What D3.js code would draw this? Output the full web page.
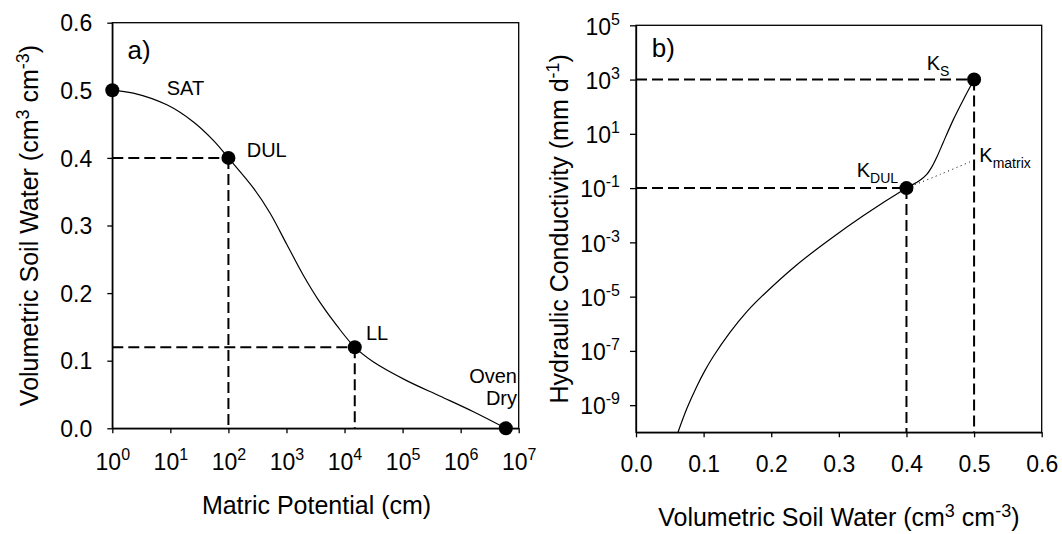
<!DOCTYPE html>
<html>
<head>
<meta charset="utf-8">
<script src="https://cdn.jsdelivr.net/npm/d3@7"></script>
<style>
  html, body { margin: 0; padding: 0; background: #fff; }
  svg { display: block; }
  text { font-family: "Liberation Sans", Arial, sans-serif; fill: #000; }
</style>
</head>
<body>
<svg id="chart" width="1062" height="534"></svg>
<script>
// Soil water retention curve: matric potential (cm) vs volumetric soil water
const retentionPotential = [1, 2.3, 8.7, 25, 55, 100, 272, 520, 1010, 1950, 3780, 7330, 15000, 31600, 117500, 436500, 1660000, 6000000];
const retentionTheta     = [0.5, 0.4959, 0.4785, 0.4532, 0.426, 0.4, 0.355, 0.3185, 0.2722, 0.2264, 0.1862, 0.1522, 0.12, 0.098, 0.0705, 0.0478, 0.0245, 0.0];

// Key points on the retention curve
const retentionPointNames = ["SAT", "DUL", "LL", "Oven Dry"];
const retentionPointPsi   = [1, 100, 15000, 6000000];
const retentionPointTheta = [0.5, 0.4, 0.12, 0.0];

// Hydraulic conductivity curve: volumetric soil water vs K (mm/d)
const conductTheta = [0.0621, 0.0755, 0.0897, 0.1015, 0.1143, 0.139, 0.164, 0.189, 0.238, 0.287, 0.336, 0.4, 0.4195, 0.43, 0.438, 0.445, 0.454, 0.469, 0.484, 0.5];
const conductK     = [1e-10, 7.8e-10, 4.8e-9, 1.8e-8, 6.2e-8, 4.8e-7, 2.8e-6, 1.2e-5, 1.5e-4, 1.3e-3, 9.5e-3, 0.1, 0.19, 0.32, 0.63, 1.4, 4.6, 32, 178, 1000];

// Matrix conductivity extension beyond DUL (dotted)
const matrixTheta = [0.4, 0.45, 0.495];
const matrixK     = [0.1, 0.32, 0.95];

// Key points on the conductivity curve
const conductPointNames = ["DUL", "S"];
const conductPointTheta = [0.4, 0.5];
const conductPointK     = [0.1, 1000];

// Tick values
const psiTicks    = [1, 10, 100, 1e3, 1e4, 1e5, 1e6, 1e7];
const psiExponent = ["0", "1", "2", "3", "4", "5", "6", "7"];
const thetaTicks  = [0, 0.1, 0.2, 0.3, 0.4, 0.5, 0.6];
const kTicks      = [1e5, 1e3, 1e1, 1e-1, 1e-3, 1e-5, 1e-7, 1e-9];
const kExponent   = ["5", "3", "1", "-1", "-3", "-5", "-7", "-9"];

const svg = d3.select("#chart");
svg.append("rect").attr("width", 1062).attr("height", 534).attr("fill", "#fff");

const TICK_FONT = 23, SUP_FONT = 16, TITLE_FONT = 25, TITLE_SUP = 18, LABEL_FONT = 20, SUB_FONT = 14;
const smooth = d3.curveCatmullRom.alpha(0.5);

// ---------- Panel a ----------
const ax = d3.scaleLog().domain([1, 1e7]).range([112.3, 518.7]);
const ay = d3.scaleLinear().domain([0, 0.6]).range([428.3, 22.7]);

const ga = svg.append("g");

function styleAxis(g) {
  g.select(".domain").attr("stroke", "#000").attr("stroke-width", 1.3);
  g.selectAll(".tick line").attr("stroke", "#000").attr("stroke-width", 1.3);
  g.selectAll(".tick text").attr("font-size", TICK_FONT).attr("fill", "#000")
    .attr("font-family", '"Liberation Sans", Arial, sans-serif');
}

function powerLabels(g, exps) {
  g.selectAll(".tick text").each(function(d, i) {
    const t = d3.select(this);
    t.text(null);
    t.append("tspan").text("10");
    t.append("tspan").attr("font-size", SUP_FONT).attr("dy", -10).text(exps[i]);
  });
}

// frame
ga.append("rect").attr("x", ax.range()[0]).attr("y", ay.range()[1])
  .attr("width", ax.range()[1] - ax.range()[0]).attr("height", ay.range()[0] - ay.range()[1])
  .attr("fill", "none").attr("stroke", "#000").attr("stroke-width", 1.3);

const axA = ga.append("g").attr("transform", `translate(0,${ay.range()[0]})`)
  .call(d3.axisBottom(ax).tickValues(psiTicks).tickSizeInner(5).tickSizeOuter(0).tickPadding(20).tickFormat(() => ""));
styleAxis(axA);
powerLabels(axA, psiExponent);
axA.selectAll(".tick text").attr("dy", "0.71em");

const ayA = ga.append("g").attr("transform", `translate(${ax.range()[0]},0)`)
  .call(d3.axisLeft(ay).tickValues(thetaTicks).tickSizeInner(5).tickSizeOuter(0).tickPadding(15).tickFormat(d3.format(".1f")));
styleAxis(ayA);
ayA.selectAll(".tick text").attr("dy", "0.36em");

// reference dashes to DUL and LL
[1, 2].forEach(i => {
  const px = ax(retentionPointPsi[i]), py = ay(retentionPointTheta[i]);
  ga.append("line").attr("x1", ax.range()[0]).attr("x2", px).attr("y1", py).attr("y2", py)
    .attr("stroke", "#000").attr("stroke-width", 2).attr("stroke-dasharray", "11,5");
  ga.append("line").attr("x1", px).attr("x2", px).attr("y1", py).attr("y2", ay.range()[0])
    .attr("stroke", "#000").attr("stroke-width", 2).attr("stroke-dasharray", "11,5");
});

const retention = retentionPotential.map((p, i) => [p, retentionTheta[i]]);
ga.append("path").datum(retention)
  .attr("d", d3.line().x(d => ax(d[0])).y(d => ay(d[1])).curve(smooth))
  .attr("fill", "none").attr("stroke", "#000").attr("stroke-width", 1.2);

ga.selectAll("circle.pt").data(retentionPointPsi).enter().append("circle")
  .attr("cx", d => ax(d)).attr("cy", (d, i) => ay(retentionPointTheta[i])).attr("r", 7).attr("fill", "#000");

ga.append("text").attr("x", 127.5).attr("y", 59).attr("font-size", 26).text("a)");
ga.append("text").attr("x", 166.7).attr("y", 95).attr("font-size", LABEL_FONT).text(retentionPointNames[0]);
ga.append("text").attr("x", 246.7).attr("y", 157).attr("font-size", LABEL_FONT).text(retentionPointNames[1]);
ga.append("text").attr("x", 366).attr("y", 340).attr("font-size", LABEL_FONT).text(retentionPointNames[2]);
const odWords = retentionPointNames[3].split(" ");
ga.append("text").attr("x", 517).attr("y", 383).attr("font-size", LABEL_FONT).attr("text-anchor", "end").text(odWords[0]);
ga.append("text").attr("x", 517).attr("y", 405).attr("font-size", LABEL_FONT).attr("text-anchor", "end").text(odWords[1]);

ga.append("text").attr("x", (ax.range()[0] + ax.range()[1]) / 2 + 1).attr("y", 514)
  .attr("font-size", TITLE_FONT).attr("text-anchor", "middle").text("Matric Potential (cm)");

function soilWaterTitle(t) {
  t.append("tspan").text("Volumetric Soil Water (cm");
  t.append("tspan").attr("font-size", TITLE_SUP).attr("dy", -9).text("3");
  t.append("tspan").attr("dy", 9).text(" cm");
  t.append("tspan").attr("font-size", TITLE_SUP).attr("dy", -9).text("-3");
  t.append("tspan").attr("dy", 9).text(")");
}

const ayTitle = ga.append("text").attr("font-size", TITLE_FONT).attr("text-anchor", "middle")
  .attr("transform", `translate(37.5,${(ay.range()[0] + ay.range()[1]) / 2}) rotate(-90)`);
soilWaterTitle(ayTitle);

// ---------- Panel b ----------
const bx = d3.scaleLinear().domain([0, 0.6]).range([636, 1041.7]);
const by = d3.scaleLog().domain([1e-10, 1e5]).range([432.3, 25.3]);

const gb = svg.append("g");
gb.append("defs").append("clipPath").attr("id", "clipB").append("rect")
  .attr("x", bx.range()[0]).attr("y", by.range()[1])
  .attr("width", bx.range()[1] - bx.range()[0]).attr("height", by.range()[0] - by.range()[1]);

gb.append("rect").attr("x", bx.range()[0]).attr("y", by.range()[1])
  .attr("width", bx.range()[1] - bx.range()[0]).attr("height", by.range()[0] - by.range()[1])
  .attr("fill", "none").attr("stroke", "#000").attr("stroke-width", 1.3);

const axB = gb.append("g").attr("transform", `translate(0,${by.range()[0]})`)
  .call(d3.axisBottom(bx).tickValues(thetaTicks).tickSizeInner(5).tickSizeOuter(0).tickPadding(18).tickFormat(d3.format(".1f")));
styleAxis(axB);
axB.selectAll(".tick text").attr("dy", "0.71em");

const ayB = gb.append("g").attr("transform", `translate(${bx.range()[0]},0)`)
  .call(d3.axisLeft(by).tickValues(kTicks).tickSizeInner(6).tickSizeOuter(0).tickPadding(10).tickFormat(() => ""));
styleAxis(ayB);
powerLabels(ayB, kExponent);
ayB.selectAll(".tick text").attr("dy", "0.38em");

conductPointTheta.forEach((th, i) => {
  const px = bx(th), py = by(conductPointK[i]);
  gb.append("line").attr("x1", bx.range()[0]).attr("x2", px).attr("y1", py).attr("y2", py)
    .attr("stroke", "#000").attr("stroke-width", 2).attr("stroke-dasharray", "11,5");
  gb.append("line").attr("x1", px).attr("x2", px).attr("y1", py).attr("y2", by.range()[0])
    .attr("stroke", "#000").attr("stroke-width", 2).attr("stroke-dasharray", "11,5");
});

const matrix = matrixTheta.map((t, i) => [t, matrixK[i]]);
gb.append("path").datum(matrix)
  .attr("d", d3.line().x(d => bx(d[0])).y(d => by(d[1])).curve(smooth))
  .attr("fill", "none").attr("stroke", "#000").attr("stroke-width", 1).attr("stroke-dasharray", "1,3.5");

const conduct = conductTheta.map((t, i) => [t, conductK[i]]);
gb.append("path").datum(conduct).attr("clip-path", "url(#clipB)")
  .attr("d", d3.line().x(d => bx(d[0])).y(d => by(d[1])).curve(smooth))
  .attr("fill", "none").attr("stroke", "#000").attr("stroke-width", 1.2);

gb.selectAll("circle.pt").data(conductPointTheta).enter().append("circle")
  .attr("cx", d => bx(d)).attr("cy", (d, i) => by(conductPointK[i])).attr("r", 7).attr("fill", "#000");

gb.append("text").attr("x", 651.7).attr("y", 57).attr("font-size", 26).text("b)");

function kLabel(x, y, sub) {
  const t = gb.append("text").attr("x", x).attr("y", y).attr("font-size", LABEL_FONT);
  t.append("tspan").text("K");
  t.append("tspan").attr("font-size", SUB_FONT).attr("dy", 6).text(sub);
}
kLabel(926.7, 70, conductPointNames[1]);
kLabel(856.7, 177, conductPointNames[0]);
kLabel(979.3, 161.7, "matrix");

const bxTitle = gb.append("text").attr("font-size", TITLE_FONT).attr("text-anchor", "middle")
  .attr("x", (bx.range()[0] + bx.range()[1]) / 2).attr("y", 526);
soilWaterTitle(bxTitle);

const byTitle = gb.append("text").attr("font-size", TITLE_FONT).attr("text-anchor", "middle")
  .attr("transform", `translate(568,${(by.range()[0] + by.range()[1]) / 2}) rotate(-90)`);
byTitle.append("tspan").text("Hydraulic Conductivity (mm d");
byTitle.append("tspan").attr("font-size", TITLE_SUP).attr("dy", -9).text("-1");
byTitle.append("tspan").attr("dy", 9).text(")");
</script>
</body>
</html>
